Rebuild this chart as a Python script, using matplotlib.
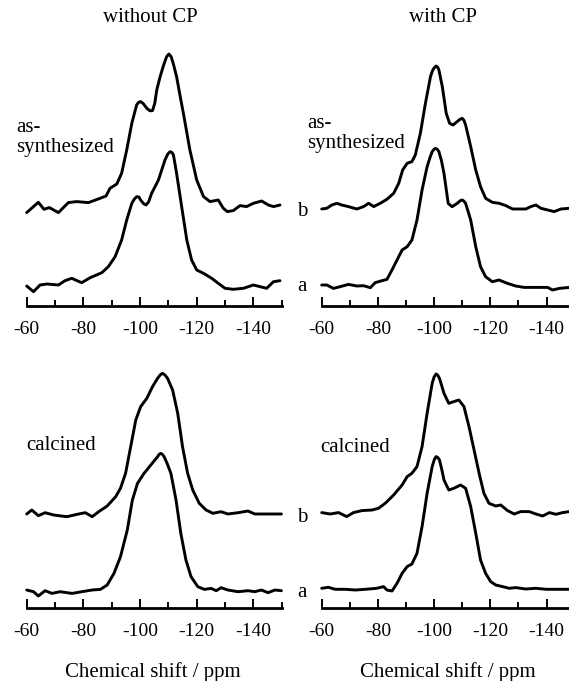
import matplotlib
matplotlib.use("Agg")
import matplotlib.pyplot as plt
from matplotlib.ticker import MultipleLocator, NullFormatter

plt.rcParams["font.family"] = "Liberation Serif"
plt.rcParams["axes.unicode_minus"] = False

# --- 29Si MAS NMR traces (ppm, intensity in a.u.) ---
# without CP, as-synthesized
nocp_as_b_ppm = [-60.0, -64.1, -66.1, -68.0, -71.2, -74.7, -77.6, -81.8, -85.9, -88.0, -89.4, -91.8,
                 -93.5, -95.3, -97.1, -98.8, -99.5, -100.2, -101.2, -102.4, -103.5, -104.4, -105.2,
                 -105.9, -107.1, -108.3, -109.4, -110.2, -111.0, -111.8, -112.9, -114.1, -115.3,
                 -117.6, -120.0, -122.4, -124.7, -127.6, -129.4, -130.8, -132.9, -135.3, -137.6,
                 -140.0, -142.9, -145.3, -147.1, -149.4]
nocp_as_b_int = [-4.3, 6.0, -1.0, 0.7, -4.3, 5.7, 6.7, 5.7, 10.0, 12.3, 20.0, 24.3, 35.0, 58.3, 85.0,
                 103.3, 106.0, 106.7, 104.5, 100.0, 97.5, 97.7, 105.0, 118.3, 131.7, 143.0, 151.7,
                 154.3, 151.5, 144.0, 131.7, 113.0, 95.0, 58.3, 28.3, 11.7, 6.7, 8.3, 0.0, -3.3, -2.3,
                 2.7, 1.7, 5.0, 7.3, 3.3, 1.7, 3.3]
nocp_as_a_ppm = [-60.0, -62.4, -64.7, -67.1, -71.2, -73.5, -75.9, -79.4, -82.4, -86.5, -88.8, -91.2,
                 -93.5, -95.3, -97.1, -98.0, -98.8, -99.6, -100.2, -101.2, -102.1, -103.0, -104.1,
                 -106.5, -108.8, -109.8, -110.6, -111.3, -111.8, -112.9, -113.8, -114.7, -116.5,
                 -118.2, -120.0, -122.4, -125.3, -127.6, -130.0, -132.9, -136.5, -140.0, -142.4,
                 -144.7, -147.1, -149.4]
nocp_as_a_int = [-1.0, -6.7, 0.0, 1.0, 0.0, 4.3, 6.7, 2.3, 7.3, 12.3, 18.3, 28.3, 45.0, 65.0, 81.7, 86.0,
                 88.3, 88.0, 85.0, 81.5, 80.0, 83.0, 91.7, 105.0, 125.0, 131.0, 133.3, 132.5, 130.0,
                 111.7, 95.0, 78.3, 45.0, 25.0, 15.0, 11.7, 6.7, 1.7, -3.3, -4.3, -3.3, 0.0, -1.7,
                 -3.3, 3.3, 4.3]

# with CP, as-synthesized
cp_as_b_ppm = [-60.0, -61.8, -63.6, -65.4, -67.1, -69.5, -72.5, -74.9, -76.7, -78.5, -80.8, -83.2,
               -85.6, -87.4, -88.8, -90.4, -92.1, -93.3, -95.1, -96.9, -98.7, -99.4, -99.9, -100.7,
               -101.3, -101.7, -102.9, -104.3, -105.5, -106.7, -108.2, -109.2, -110.0, -110.6,
               -111.2, -113.0, -114.8, -116.5, -118.3, -120.7, -123.1, -125.5, -127.9, -132.6,
               -134.4, -136.2, -138.0, -140.4, -142.7, -145.1, -148.1, -151.0]
cp_as_b_int = [-0.7, 0.0, 3.3, 5.0, 3.3, 1.7, -0.7, 1.7, 5.0, 1.7, 5.0, 9.0, 15.0, 25.0, 38.3, 45.0,
               46.7, 53.3, 75.0, 105.0, 131.7, 137.5, 140.0, 142.3, 141.0, 138.3, 121.7, 95.0, 85.0,
               83.3, 86.7, 89.0, 90.0, 88.0, 83.3, 61.7, 38.3, 21.7, 10.0, 6.0, 5.0, 2.7, -0.7, -0.7,
               1.7, 3.3, 0.0, -1.7, -3.3, -0.7, 0.0, 0.5]
cp_as_a_ppm = [-60.0, -61.8, -64.2, -66.5, -69.5, -72.5, -74.9, -77.3, -79.0, -81.4, -83.2, -85.0,
               -86.8, -88.6, -90.4, -92.1, -93.9, -95.7, -97.5, -98.5, -99.3, -100.0, -100.5, -101.1,
               -101.7, -102.6, -103.5, -105.0, -106.4, -108.2, -109.3, -110.0, -110.6, -111.2,
               -113.0, -114.8, -116.5, -118.3, -120.7, -123.1, -126.1, -129.0, -132.0, -136.2,
               -140.4, -142.1, -144.5, -148.1, -151.0]
cp_as_a_int = [1.7, 1.7, -1.7, 0.0, 2.3, 0.7, 1.0, -1.0, 4.0, 6.0, 7.3, 16.7, 26.7, 36.7, 40.0, 46.7,
               66.7, 96.7, 120.0, 129.0, 135.0, 137.6, 138.3, 137.5, 135.0, 126.0, 113.3, 83.3, 80.0,
               83.3, 86.0, 86.7, 85.5, 83.3, 66.7, 40.0, 20.0, 10.0, 5.0, 6.7, 3.3, 0.7, -0.7, -0.7,
               -0.7, -3.3, -1.7, -0.7, 0.0]

# without CP, calcined
nocp_cal_b_ppm = [-60.0, -61.8, -64.1, -66.5, -69.5, -74.2, -77.8, -80.7, -83.1, -85.4, -88.4, -91.4,
                  -93.1, -94.9, -96.7, -98.5, -100.2, -102.4, -104.4, -106.2, -107.1, -107.9, -108.8,
                  -109.7, -111.5, -113.3, -115.0, -116.8, -118.6, -120.9, -123.3, -125.7, -128.6,
                  -131.0, -134.6, -138.1, -140.5, -145.2, -149.9]
nocp_cal_b_int = [0.0, 4.0, -1.7, 1.3, -1.0, -2.7, -0.3, 1.3, -2.7, 2.3, 8.0, 17.3, 25.7, 40.7, 67.3,
                  94.0, 107.3, 115.7, 127.3, 135.7, 139.0, 140.7, 139.0, 135.7, 124.0, 100.7, 67.3,
                  40.7, 24.0, 10.7, 4.0, 0.7, 2.3, 0.0, 1.3, 3.0, 0.0, 0.0, 0.0]
nocp_cal_a_ppm = [-60.0, -62.4, -64.1, -66.5, -68.9, -71.8, -76.0, -79.5, -83.1, -86.0, -88.4, -90.8,
                  -93.1, -95.5, -97.3, -99.1, -101.4, -103.8, -106.2, -106.8, -107.3, -107.9, -108.5,
                  -109.6, -110.9, -112.7, -114.4, -116.2, -118.0, -120.4, -122.7, -125.1, -126.9,
                  -128.6, -131.0, -134.6, -138.1, -140.5, -142.8, -145.2, -147.6, -149.9]
nocp_cal_a_int = [0.7, -1.0, -5.3, 0.0, -2.7, -1.0, -2.7, -1.0, 0.7, 1.3, 5.7, 17.3, 34.0, 60.7, 90.7,
                  107.3, 117.3, 125.7, 134.0, 136.5, 137.3, 136.3, 134.0, 127.0, 117.3, 90.7, 57.3,
                  30.7, 14.0, 4.0, 1.3, 2.3, 0.0, 3.0, 0.7, -1.0, 0.0, -1.0, 0.7, -2.0, 0.7, 0.0]

# with CP, calcined
cp_cal_b_ppm = [-60.0, -63.0, -66.0, -68.9, -71.3, -74.3, -77.9, -80.2, -82.6, -85.6, -88.6, -90.4,
                -92.1, -93.9, -95.7, -97.5, -99.3, -100.0, -100.7, -101.3, -101.9, -103.5, -105.2,
                -107.0, -108.8, -110.6, -112.4, -114.2, -116.0, -117.7, -119.5, -121.9, -123.7,
                -126.1, -128.5, -130.8, -133.8, -136.2, -138.6, -141.0, -143.3, -145.7, -148.1, -151.0]
cp_cal_b_int = [0.7, -0.7, 0.7, -3.3, 0.7, 2.7, 3.3, 5.0, 10.0, 18.3, 28.3, 36.7, 40.0, 46.7, 66.7,
                100.0, 130.0, 136.5, 139.3, 138.0, 135.0, 120.0, 110.0, 111.7, 113.3, 106.7, 86.7,
                63.3, 40.0, 20.0, 10.0, 7.3, 8.3, 2.7, -0.7, 1.7, 1.7, -0.7, -2.7, 0.7, -1.0, 0.7,
                1.7, 1.0]
cp_cal_a_ppm = [-60.0, -62.4, -64.8, -68.3, -71.9, -75.5, -79.6, -82.0, -83.2, -85.0, -86.8, -88.6,
                -90.4, -92.1, -93.9, -95.7, -97.5, -99.3, -100.1, -100.7, -101.3, -101.9, -102.7,
                -103.5, -105.2, -107.0, -109.4, -111.2, -113.0, -114.8, -116.5, -118.3, -120.1,
                -121.9, -124.3, -126.7, -129.0, -132.6, -136.2, -139.8, -143.3, -148.1, -151.0]
cp_cal_a_int = [1.0, 2.0, 0.0, 0.0, -0.7, 0.0, 1.0, 2.7, -0.7, -1.7, 6.0, 16.0, 22.7, 25.3, 36.0, 62.7,
                96.0, 122.7, 130.0, 132.7, 131.8, 129.3, 120.0, 109.3, 99.3, 101.0, 104.3, 101.0, 82.7,
                56.0, 29.3, 16.0, 7.7, 4.3, 2.7, 1.0, 1.7, 0.3, 1.0, 0.0, 0.0, 0.0, 0.0]

tick_labels = ["-60", "-80", "-100", "-120", "-140"]

W, H = 569, 681
fig = plt.figure(figsize=(W / 100, H / 100), dpi=100)


def make_axes(x_left, x_right, y_axis, height=285):
    ax = fig.add_axes([x_left / W, 1 - y_axis / H, (x_right - x_left) / W, height / H])
    ax.set_xlim(-60, -150)
    ax.set_ylim(0, height)
    for side in ["left", "right", "top"]:
        ax.spines[side].set_visible(False)
    ax.spines["bottom"].set_linewidth(2.0)
    ax.set_yticks([])
    ax.xaxis.set_minor_locator(MultipleLocator(10))
    ax.xaxis.set_minor_formatter(NullFormatter())
    ax.set_xticks([-60, -80, -100, -120, -140])
    ax.set_xticklabels(tick_labels)
    ax.tick_params(axis="x", which="major", direction="in", length=6.5, width=1.4,
                   labelsize=14, pad=11.5)
    ax.tick_params(axis="x", which="minor", direction="in", length=4.3, width=1.4)
    ax.patch.set_visible(False)
    return ax


def trace(ax, ppm, inten, offset):
    ax.plot(ppm, [v + offset for v in inten], color="black", lw=2.1,
            solid_joinstyle="round", solid_capstyle="round", clip_on=False)


left_x = (26.7, 281.7)
right_x = (321.7, 574.7)
top_y, bot_y = 305.5, 607.5

ax_tl = make_axes(*left_x, top_y)
trace(ax_tl, nocp_as_b_ppm, nocp_as_b_int, 97.2)
trace(ax_tl, nocp_as_a_ppm, nocp_as_a_int, 20.5)

ax_tr = make_axes(*right_x, top_y)
trace(ax_tr, cp_as_b_ppm, cp_as_b_int, 97.2)
trace(ax_tr, cp_as_a_ppm, cp_as_a_int, 18.8)

ax_bl = make_axes(*left_x, bot_y)
trace(ax_bl, nocp_cal_b_ppm, nocp_cal_b_int, 93.5)
trace(ax_bl, nocp_cal_a_ppm, nocp_cal_a_int, 16.8)

ax_br = make_axes(*right_x, bot_y)
trace(ax_br, cp_cal_b_ppm, cp_cal_b_int, 94.2)
trace(ax_br, cp_cal_a_ppm, cp_cal_a_int, 18.2)


def label(x, y, s, size=15, ha="left"):
    fig.text(x / W, 1 - y / H, s, fontsize=size, ha=ha, va="baseline")


label(150, 22.5, "without CP", ha="center")
label(443, 22.5, "with CP", ha="center")
label(16, 131.7, "as-")
label(16, 151.7, "synthesized")
label(307, 128, "as-")
label(307, 148, "synthesized")
label(26, 450, "calcined")
label(320, 451.5, "calcined")
for yb, s in [(216, "b"), (291, "a"), (521.7, "b"), (596.7, "a")]:
    label(297, yb, s)
label(152.5, 677, "Chemical shift / ppm", ha="center")
label(447.5, 677, "Chemical shift / ppm", ha="center")

fig.savefig("out.png", dpi=100)
